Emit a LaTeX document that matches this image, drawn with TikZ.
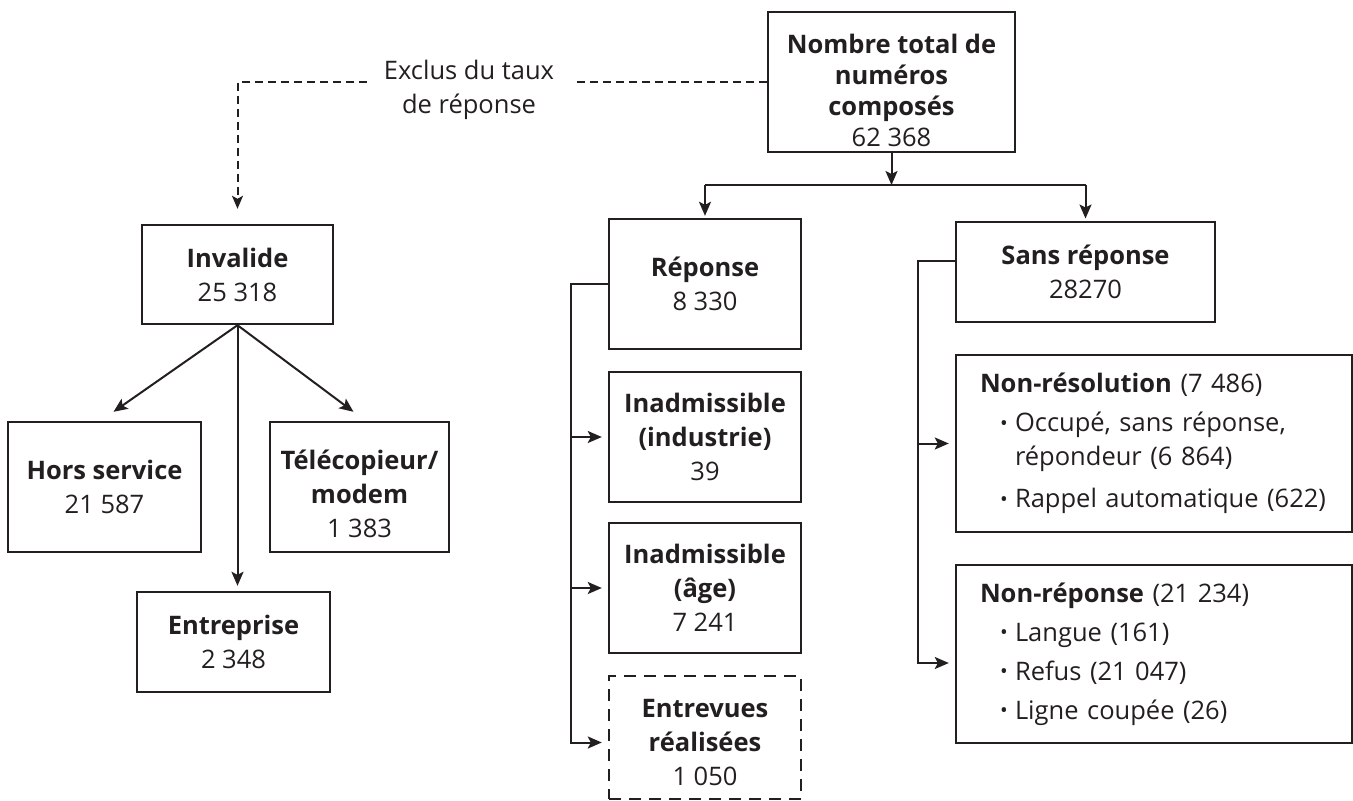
\documentclass[tikz,border=0pt]{standalone}
\usepackage{fontspec}
\setmainfont{Open Sans}
\usetikzlibrary{arrows.meta,calc}
\definecolor{ink}{HTML}{231F20}
\newcommand\myblt{\hspace*{20pt}\makebox[15pt][l]{\raisebox{0.1ex}{\scalebox{0.8}{\textbullet}}}}
\newcommand\myind{\hspace*{35pt}}
\begin{document}
\begin{tikzpicture}[x=1pt,y=-1pt,
  box/.style={draw=ink, line width=2.4pt, text=ink, align=center, inner sep=0pt, font=\fontsize{25.5}{34}\selectfont},
  txt/.style={text=ink, align=center, inner sep=0pt, font=\fontsize{25.5}{34}\selectfont},
  conn/.style={draw=ink, line width=2pt},
  arr/.style={conn, -{Stealth[length=14pt,width=12pt,inset=3pt]}},
  dashconn/.style={conn, dash pattern=on 8pt off 5pt},
  listbox/.style={box, align=left, text width=348pt, inner xsep=24pt}
]
\useasboundingbox (0,0) rectangle (1353,801);

% top
\node[box, minimum width=247pt, minimum height=140pt] (total) at (891.5,82) {};
\node[txt, font=\fontsize{25.5}{31}\selectfont] (totaltxt) at (891.5,90)
  {\textbf{Nombre total de}\\\textbf{numéros}\\\textbf{composés}\\62 368};
\node[txt] (exclus) at (469,90) {Exclus du taux\\de réponse};
\coordinate (dl) at (367,82);
\coordinate (dr) at (575,82);

% left tree
\node[box, minimum width=191pt, minimum height=99pt] (inval) at (237.5,274.5) {\textbf{Invalide}\\25 318};
\node[box, minimum width=193pt, minimum height=130pt] (hors) at (104.5,487) {\textbf{Hors service}\\21 587};
\node[box, minimum width=179pt, minimum height=130pt] (tele) at (359.5,487) {};
\node[txt] (teletxt) at (359.5,494) {\textbf{Télécopieur/}\\\textbf{modem}\\1 383};
\node[box, minimum width=193pt, minimum height=100pt] (entr) at (233.5,642) {\textbf{Entreprise}\\2 348};

% middle column
\node[box, minimum width=192pt, minimum height=130pt] (rep) at (705,284) {\textbf{Réponse}\\8 330};
\node[box, minimum width=192pt, minimum height=130pt] (inind) at (705,437) {\textbf{Inadmissible}\\\textbf{(industrie)}\\39};
\node[box, minimum width=192pt, minimum height=130pt] (inage) at (705,588) {\textbf{Inadmissible}\\\textbf{(âge)}\\7 241};
\node[box, dash pattern=on 12pt off 8pt, minimum width=192pt, minimum height=123pt] (entrev) at (705,737.5) {};
\node[txt] (entrevtxt) at (705,743) {\textbf{Entrevues}\\\textbf{réalisées}\\1 050};

% right column
\node[box, minimum width=259pt, minimum height=100pt] (sans) at (1085.5,271.7) {\textbf{Sans réponse}\\28270};
\node[listbox, minimum height=177pt] (nonres) at (1154,443.5)
  {\textbf{Non-résolution} (7 486)\\[5pt]
   \myblt Occupé, sans réponse,\\
   \myind répondeur (6 864)\\[8pt]
   \myblt Rappel automatique (622)};
\node[listbox, minimum height=178pt] (nonrep) at (1154,654)
  {\textbf{Non-réponse} (21 234)\\[5pt]
   \myblt Langue (161)\\[5pt]
   \myblt Refus (21 047)\\[5pt]
   \myblt Ligne coupée (26)};

% dashed exclusion connector
\draw[dashconn] (total.west) -- (dr);
\draw[dashconn, -{Stealth[length=13pt,width=11pt,inset=3pt]}, shorten >=15pt] (dl) -| (inval.north);

% invalid branches
\draw[arr] (inval.south) -- ($(hors.north)+(9,-9)$);
\draw[arr] (inval.south) -- ($(tele.north)+(-6,-9)$);
\draw[arr, shorten >=5pt] (inval.south) -- (inval.south |- entr.north);

% top split
\coordinate (bar) at (891.5,185);
\draw[arr] (total.south) -- (bar);
\draw[conn] (rep.north |- bar) -- (sans.north |- bar);
\draw[arr, shorten >=2pt] (rep.north |- bar) -- (rep.north);
\draw[arr, shorten >=2pt] (sans.north |- bar) -- (sans.north);

% response bracket
\draw[arr, shorten >=6pt] (rep.west) -- ++(-37,0) |- (inind.west);
\draw[arr, shorten >=6pt] (rep.west) -- ++(-37,0) |- (inage.west);
\draw[arr, shorten >=6pt] (rep.west) -- ++(-37,0) |- ($(entrev.west)+(0,5)$);

% no-response bracket
\coordinate (sout) at ($(sans.west)+(0,-11)$);
\draw[arr, shorten >=6pt] (sout) -- ++(-37,0) |- (nonres.west);
\draw[arr, shorten >=6pt] (sout) -- ++(-37,0) |- ($(nonrep.west)+(0,9)$);
\end{tikzpicture}
\end{document}
